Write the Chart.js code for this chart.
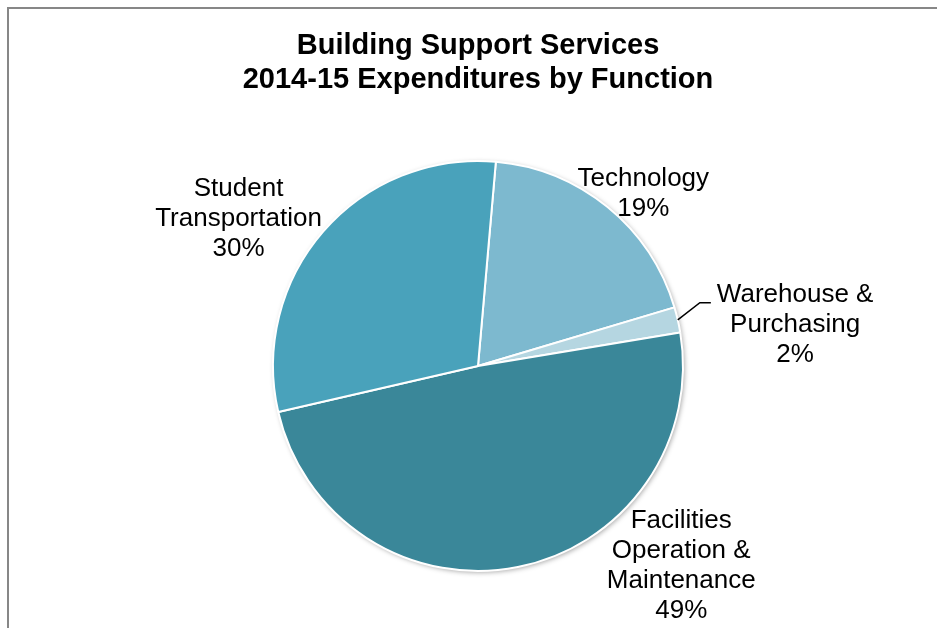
<!DOCTYPE html>
<html>
<head>
<meta charset="utf-8">
<script src="https://cdn.jsdelivr.net/npm/chart.js@4.4.1/dist/chart.umd.min.js"></script>
<style>
  html, body { margin: 0; padding: 0; background: #fff; }
  #wrap { width: 937px; height: 628px; }
</style>
</head>
<body>
<div id="wrap"><canvas id="budgetPie"></canvas></div>
<script>
const functions = ['Technology', 'Warehouse & Purchasing', 'Facilities Operation & Maintenance', 'Student Transportation'];
const percents = [19, 2, 49, 30];
const sliceColors = ['#7db9cf', '#b5d6e1', '#3a8799', '#49a2bb'];

// how each label is broken into lines
const labelLines = [
    ['Technology'],
    ['Warehouse &', 'Purchasing'],
    ['Facilities', 'Operation &', 'Maintenance'],
    ['Student', 'Transportation'],
];

// where each label sits: angle (deg, clockwise from top) and distance in pie radii
const labelPlace = [
    { angle: 43.8, dist: 1.165, leader: false },
    { angle: 82.6, dist: 1.56, leader: true },
    { angle: 134.5, dist: 1.39, leader: false },
    { angle: 301.5, dist: 1.37, leader: false },
];

const frame = {
    id: 'frame',
    beforeDraw(chart) {
        const ctx = chart.ctx;
        ctx.save();
        ctx.strokeStyle = '#878787';
        ctx.lineWidth = 2;
        ctx.strokeRect(8, 8, chart.width + 20, chart.height + 20);
        ctx.restore();
    },
};

// soft drop shadow under the whole pie
const pieShadow = {
    id: 'pieShadow',
    beforeDatasetsDraw(chart) {
        const arc = chart.getDatasetMeta(0).data[0];
        if (!arc) return;
        const ctx = chart.ctx;
        ctx.save();
        ctx.shadowColor = 'rgba(0,0,0,0.35)';
        ctx.shadowBlur = 5;
        ctx.shadowOffsetX = 1.5;
        ctx.shadowOffsetY = 1.5;
        ctx.fillStyle = '#ffffff';
        ctx.beginPath();
        ctx.arc(arc.x, arc.y, arc.outerRadius, 0, Math.PI * 2);
        ctx.fill();
        ctx.restore();
    },
};

const outsideLabels = {
    id: 'outsideLabels',
    afterDatasetsDraw(chart) {
        const ctx = chart.ctx;
        const meta = chart.getDatasetMeta(0);
        const total = percents.reduce((a, b) => a + b, 0);
        const lineH = 30;
        ctx.save();
        ctx.font = '26px "Liberation Sans", Arial, sans-serif';
        ctx.fillStyle = '#000';
        ctx.textAlign = 'center';
        ctx.textBaseline = 'middle';
        meta.data.forEach((arc, i) => {
            const place = labelPlace[i];
            const a = place.angle * Math.PI / 180;
            const cx = arc.x + Math.sin(a) * arc.outerRadius * place.dist;
            const cy = arc.y - Math.cos(a) * arc.outerRadius * place.dist;
            const lines = labelLines[i].concat([Math.round(percents[i] / total * 100) + '%']);
            const top = cy - (lines.length - 1) * lineH / 2;
            lines.forEach((t, k) => ctx.fillText(t, cx, top + k * lineH));

            if (place.leader) {
                const mid = (arc.startAngle + arc.endAngle) / 2;
                const px = arc.x + Math.cos(mid) * arc.outerRadius;
                const py = arc.y + Math.sin(mid) * arc.outerRadius;
                const w = ctx.measureText(lines[0]).width;
                const ex = cx - w / 2 - 6;
                ctx.strokeStyle = '#000';
                ctx.lineWidth = 1.5;
                ctx.beginPath();
                ctx.moveTo(px, py);
                ctx.lineTo(ex - 11, top + 8);
                ctx.lineTo(ex, top + 8);
                ctx.stroke();
            }
        });
        ctx.restore();
    },
};

const ctx = document.getElementById('budgetPie').getContext('2d');

const config = {
    type: 'pie',
    data: {
        labels: functions,
        datasets: [
            {
                data: percents,
                backgroundColor: sliceColors,
                borderColor: '#ffffff',
                borderWidth: 2,
            },
        ],
    },
    options: {
        responsive: true,
        maintainAspectRatio: false,
        animation: false,
        rotation: 5,
        radius: 205,
        layout: {
            padding: { left: 119, right: 100, top: 0, bottom: 0 },
        },
        plugins: {
            legend: { display: false },
            tooltip: { enabled: false },
            title: {
                display: true,
                text: ['Building Support Services', '2014-15 Expenditures by Function'],
                color: '#000',
                font: { family: '"Liberation Sans", Arial, sans-serif', size: 29, weight: 'bold', lineHeight: 1.17 },
                padding: { top: 29, bottom: 7 },
            },
        },
    },
    plugins: [frame, pieShadow, outsideLabels],
};

new Chart(ctx, config);
</script>
</body>
</html>
